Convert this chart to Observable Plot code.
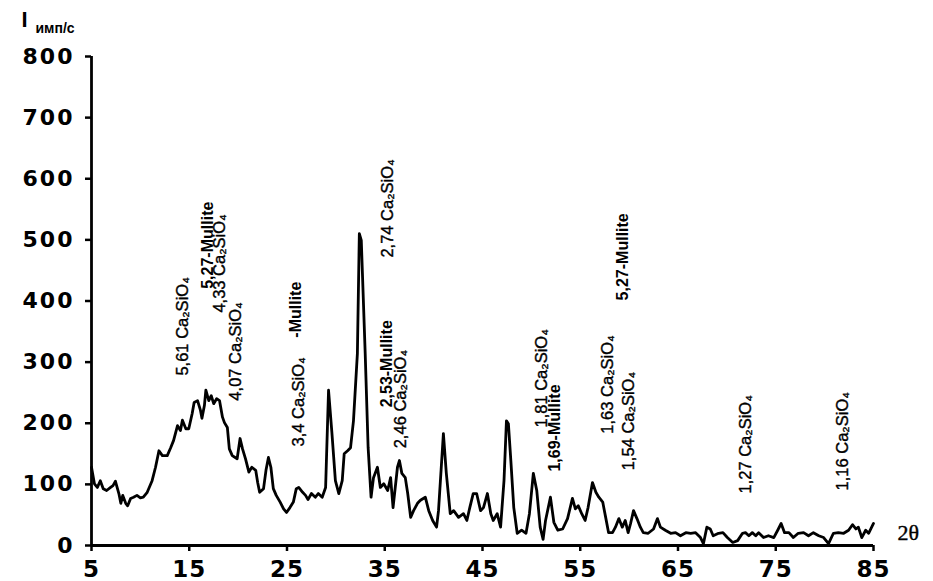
<!DOCTYPE html>
<html>
<head>
<meta charset="utf-8">
<script src="https://cdn.jsdelivr.net/npm/d3@7"></script>
<script src="https://cdn.jsdelivr.net/npm/@observablehq/plot@0.6"></script>
<style>
  html, body { margin: 0; padding: 0; background: #fff; }
  g[aria-label="y-axis tick label"] text { letter-spacing: 2px; }
  g[aria-label="x-axis tick label"] text { letter-spacing: 1px; }
</style>
</head>
<body>
<div id="chart"></div>
<script>
// 2θ (degrees) and intensity (imp/s)
const twoTheta = [5.0,5.3,5.6,5.9,6.2,6.55,6.95,7.2,7.45,7.8,8.0,8.2,8.5,8.7,9.0,9.3,9.65,10.0,10.3,10.7,11.2,11.55,11.9,12.25,12.75,13.1,13.4,13.8,14.1,14.3,14.65,14.95,15.3,15.5,15.85,16.15,16.3,16.55,16.7,17.0,17.25,17.5,17.8,18.1,18.4,18.6,18.9,19.1,19.4,19.7,19.9,20.2,20.45,20.75,21.1,21.4,21.8,22.0,22.2,22.6,22.85,23.1,23.35,23.6,23.9,24.3,24.65,24.95,25.3,25.65,25.95,26.2,26.6,26.9,27.15,27.5,27.9,28.2,28.6,28.95,29.25,29.6,29.95,30.3,30.65,30.85,31.2,31.5,31.8,32.2,32.4,32.6,33.0,33.3,33.6,33.85,34.25,34.55,34.9,35.3,35.6,35.85,36.3,36.5,36.75,37.1,37.35,37.65,37.95,38.35,38.65,39.15,39.5,39.9,40.3,40.5,41.0,41.3,41.7,42.05,42.55,43.05,43.4,43.7,44.05,44.4,44.8,45.1,45.5,45.85,46.1,46.5,46.85,47.2,47.45,47.65,47.9,48.2,48.55,49.0,49.45,49.8,50.2,50.55,50.9,51.2,51.45,51.95,52.3,52.7,53.2,53.7,54.2,54.5,54.8,55.15,55.5,55.8,56.25,56.6,56.9,57.3,57.6,57.9,58.3,58.6,58.95,59.3,59.6,59.9,60.15,60.45,60.8,61.15,61.45,61.95,62.5,62.9,63.2,63.7,64.25,64.75,65.25,65.8,66.3,66.8,67.3,67.6,67.95,68.3,68.6,69.15,69.6,70.05,70.6,71.1,71.6,71.9,72.25,72.6,72.95,73.25,73.75,74.25,74.8,75.2,75.55,75.9,76.35,76.8,77.3,77.85,78.35,78.85,79.4,79.9,80.4,80.9,81.4,81.95,82.45,82.85,83.2,83.45,83.8,84.2,84.5,85.0];
const intensity = [128,101,95,106,93,90,95,98,105,85,69,82,69,65,77,79,82,78,79,87,106,128,155,147,147,160,172,196,188,205,191,191,216,234,237,221,208,229,254,237,245,232,240,237,210,201,193,158,147,144,142,175,158,142,120,128,123,103,87,93,123,144,128,93,82,71,60,54,62,71,93,95,87,82,75,85,79,85,79,95,254,183,106,85,106,150,155,160,204,314,510,499,314,160,79,111,128,95,101,90,111,62,128,139,118,111,85,46,57,69,74,79,57,41,30,57,183,118,52,57,46,52,41,62,85,85,57,62,85,52,41,52,30,106,204,199,139,62,20,25,20,52,118,90,30,10,41,79,38,25,27,44,77,60,65,52,41,62,103,87,79,71,46,21,21,30,44,30,41,21,36,57,44,30,21,20,27,44,30,25,20,21,16,21,20,21,13,3,30,27,16,20,21,13,5,8,20,21,16,21,16,21,13,16,13,25,36,21,21,13,20,21,16,21,16,13,3,20,21,20,25,34,27,30,13,25,20,36];

// Axis ticks
const xTicks = [5,15,25,35,45,55,65,75,85];
const yTicks = [0,100,200,300,400,500,600,700,800];

// Peak annotations (d-spacing + phase), anchored at the foot of each vertical label
const annText = ["5,61 Ca₂SiO₄","5,27-Mullite","4,33 Ca₂SiO₄","4,07 Ca₂SiO₄","-Mullite","3,4 Ca₂SiO₄","2,74 Ca₂SiO₄","2,53-Mullite","2,46 Ca₂SiO₄","1,81 Ca₂SiO₄","1,69-Mullite","1,63 Ca₂SiO₄","1,54 Ca₂SiO₄","5,27-Mullite","1,27 Ca₂SiO₄","1,16 Ca₂SiO₄"];
const annX = [14.36,16.92,18.15,19.78,25.92,26.23,35.33,35.23,36.66,51.09,52.42,57.84,59.99,59.37,71.95,81.87];
const annY = [278,420,381,237,340,162,471,226,159,193,121,183,123,401,85,90];

const yLabelMain = "I";
const yLabelUnit = "имп/с";
const xLabel = "2θ";

const trace = twoTheta.map((x, i) => ({x, y: intensity[i]}));
const ann = annText.map((t, i) => ({t, x: annX[i], y: annY[i], bold: t.includes("Mullite")}));

const annFont = "Liberation Sans, Arial, sans-serif";

const chart = Plot.plot({
  width: 933,
  height: 581,
  marginLeft: 91,
  marginRight: 60,
  marginTop: 56,
  marginBottom: 36,
  style: {background: "#fff", color: "#000", overflow: "visible"},
  x: {domain: [5, 85]},
  y: {domain: [0, 800]},
  marks: [
    Plot.axisX({ticks: xTicks, tickSize: 6, tickPadding: 9, strokeWidth: 2.5, fontSize: 23, fontWeight: "bold", fontFamily: "DejaVu Sans", label: null, tickFormat: d => String(d)}),
    Plot.axisY({ticks: yTicks, tickSize: 6, tickPadding: 11, strokeWidth: 2.5, fontSize: 22, fontWeight: "bold", fontFamily: "DejaVu Sans", label: null, tickFormat: d => String(d)}),
    Plot.ruleY([0], {stroke: "#000", strokeWidth: 2.8}),
    Plot.ruleX([5], {stroke: "#000", strokeWidth: 2.8}),
    Plot.line(trace, {x: "x", y: "y", stroke: "#000", strokeWidth: 2.8, strokeLinejoin: "round"}),
    Plot.text(ann.filter(d => !d.bold), {x: "x", y: "y", text: "t", rotate: -90, textAnchor: "start", lineAnchor: "middle", fontSize: 16.5, fontFamily: annFont, fill: "#000", stroke: "#000", strokeWidth: 0.4}),
    Plot.text(ann.filter(d => d.bold), {x: "x", y: "y", text: "t", rotate: -90, textAnchor: "start", lineAnchor: "middle", fontSize: 16, fontWeight: "bold", fontFamily: annFont, fill: "#000"}),
    Plot.text([yLabelMain], {text: d => d, frameAnchor: "top-left", dx: -70, dy: -37, textAnchor: "start", lineAnchor: "middle", fontSize: 22, fontWeight: "bold", fontFamily: annFont, fill: "#000"}),
    Plot.text([yLabelUnit], {text: d => d, frameAnchor: "top-left", dx: -56, dy: -28, textAnchor: "start", lineAnchor: "middle", fontSize: 14, fontWeight: "bold", fontFamily: annFont, fill: "#000"}),
    Plot.text([xLabel], {text: d => d, frameAnchor: "bottom-right", dx: 24, dy: -13, textAnchor: "start", lineAnchor: "middle", fontSize: 22, fontFamily: "Liberation Serif, serif", fill: "#000", stroke: "#000", strokeWidth: 0.4})
  ]
});
document.getElementById("chart").appendChild(chart);
</script>
</body>
</html>
